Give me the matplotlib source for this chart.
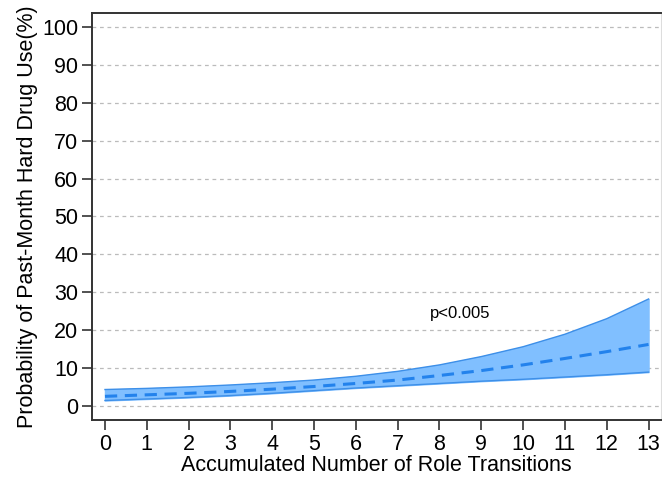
import numpy as np
import matplotlib.pyplot as plt

plt.rcParams['font.family'] = ['Liberation Sans', 'DejaVu Sans']

# Predicted probability (%) by number of role transitions
transitions = [0, 1, 2, 3, 4, 5, 6, 7, 8, 9, 10, 11, 12, 13]
mean_prob = [2.5, 2.9, 3.3, 3.8, 4.4, 5.1, 5.9, 6.8, 8.0, 9.3, 10.8, 12.5, 14.3, 16.2]
upper_ci = [4.3, 4.6, 5.0, 5.5, 6.1, 6.8, 7.8, 9.1, 10.8, 13.0, 15.6, 18.9, 23.0, 28.2]
lower_ci = [1.4, 1.8, 2.2, 2.7, 3.3, 4.0, 4.7, 5.3, 5.9, 6.5, 7.0, 7.6, 8.2, 8.9]
y_ticks = [0, 10, 20, 30, 40, 50, 60, 70, 80, 90, 100]

fig = plt.figure(figsize=(6.62, 4.82), dpi=100)
ax = fig.add_axes([0.139, 0.129, 0.859, 0.844])

# confidence band
ax.fill_between(transitions, lower_ci, upper_ci, color='#80bfff', zorder=2)
ax.plot(transitions, upper_ci, color='#3d8fe8', lw=1.0, zorder=3)
ax.plot(transitions, lower_ci, color='#3d8fe8', lw=1.0, zorder=3)
ax.plot(transitions, mean_prob, color='#2382ec', lw=2.2, ls=(0, (4, 2.5)), zorder=4)

ax.text(8.5, 24.5, 'p<0.005', fontsize=12, ha='center', va='center')

ax.set_xlim(-0.31, 13.29)
ax.set_ylim(-3.7, 103.7)
ax.set_xticks(transitions)
ax.set_yticks(y_ticks)
ax.yaxis.grid(True, ls=(0, (3, 3)), color='#bbbbbb', lw=0.9)
ax.set_axisbelow(True)

ax.tick_params(axis='both', labelsize=15.5, length=7, width=1.2, direction='out', color='#333333')
ax.tick_params(axis='y', pad=3)
ax.tick_params(axis='x', pad=3)
for side in ['left', 'bottom', 'top']:
    ax.spines[side].set_color('#333333')
    ax.spines[side].set_linewidth(1.4)
ax.spines['right'].set_color('#dddddd')

ax.set_xlabel('Accumulated Number of Role Transitions', fontsize=15.5, labelpad=0)
ax.set_ylabel('Probability of Past-Month Hard Drug Use(%)', fontsize=15.5, labelpad=3)

fig.savefig('out.png', dpi=100)
